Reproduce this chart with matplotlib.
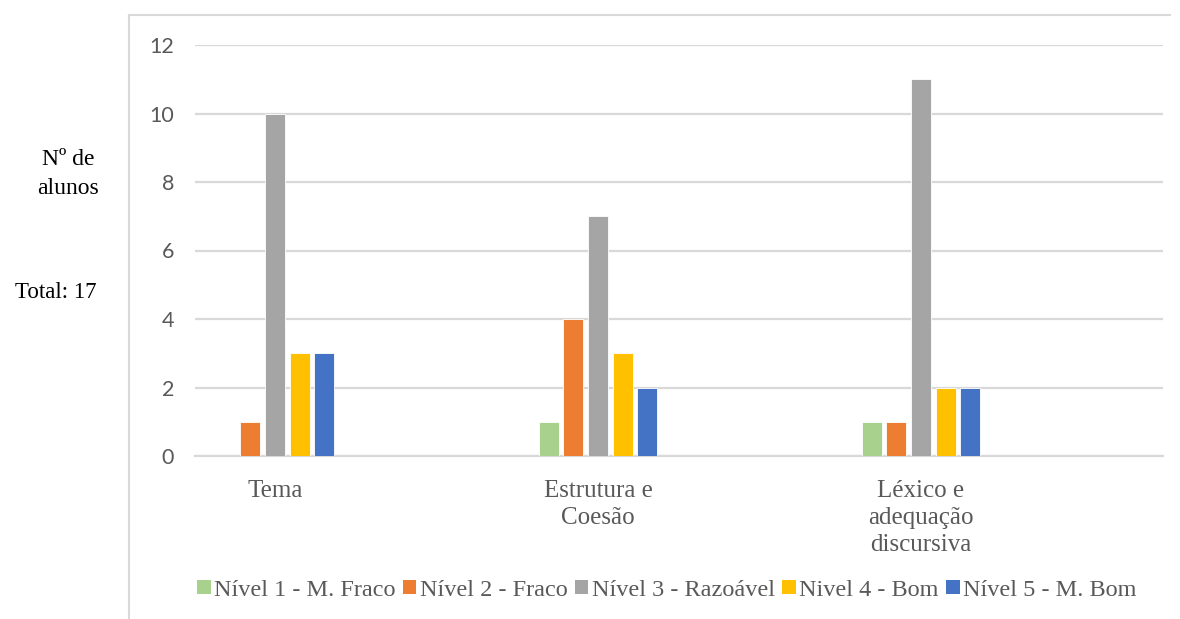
import matplotlib
matplotlib.use("Agg")
import matplotlib.pyplot as plt
from matplotlib.lines import Line2D
from matplotlib.patches import Patch
import numpy as np

categories = ["Tema", "Estrutura e\nCoesão", "Léxico e\nadequação\ndiscursiva"]
series_names = ["Nível 1 - M. Fraco", "Nível 2 - Fraco", "Nível 3 - Razoável",
                "Nivel 4 - Bom", "Nível 5 - M. Bom"]
nivel1 = [0, 1, 1]
nivel2 = [1, 4, 1]
nivel3 = [10, 7, 11]
nivel4 = [3, 3, 2]
nivel5 = [3, 2, 2]
yticks = [0, 2, 4, 6, 8, 10, 12]

series = [nivel1, nivel2, nivel3, nivel4, nivel5]
colors = ["#A9D18E", "#ED7D31", "#A5A5A5", "#FFC000", "#4472C4"]

W, H = 1180, 619
fig = plt.figure(figsize=(W / 100, H / 100), dpi=100)

serif = ["Liberation Serif", "DejaVu Serif"]
sans = ["Lato", "DejaVu Sans"]
grey_txt = "#595959"
grid_c = "#D9D9D9"

# outer chart frame (top and left edges visible)
fig.add_artist(Line2D([129 / W, 1170 / W], [1 - 15 / H, 1 - 15 / H],
                      transform=fig.transFigure, color=grid_c, lw=1.5))
fig.add_artist(Line2D([129 / W, 129 / W], [1 - 15 / H, 0],
                      transform=fig.transFigure, color=grid_c, lw=1.5))

ax_l, ax_r = 195 / W, 1163 / W
ax_b, ax_t = 1 - 456 / H, 1 - 45 / H
ax = fig.add_axes([ax_l, ax_b, ax_r - ax_l, ax_t - ax_b])

x = np.arange(len(categories))
step = 0.0762
width = 0.062
for i, (vals, col, name) in enumerate(zip(series, colors, series_names)):
    ax.bar(x + (i - 2) * step, vals, width=width, color=col, label=name,
           edgecolor="white", linewidth=0.6, zorder=3)

ax.set_xlim(-0.2477, 2.749)
ax.set_ylim(0, 12)
ax.set_yticks(yticks)
ax.set_yticklabels([str(v) for v in yticks], fontfamily=sans, fontsize=15.5,
                   color=grey_txt)
ax.tick_params(axis="y", length=0, pad=15)
ax.set_xticks(x)
ax.set_xticklabels(categories, fontfamily=serif, fontsize=18, color=grey_txt,
                   linespacing=1.3, va="top")
ax.tick_params(axis="x", length=0, pad=17)

ax.grid(axis="y", color=grid_c, linewidth=1.6, zorder=0)
for s in ["top", "right", "left"]:
    ax.spines[s].set_visible(False)
ax.spines["bottom"].set_color(grid_c)
ax.spines["bottom"].set_linewidth(1.6)
ax.spines["bottom"].set_zorder(2)

# axis description on the left
fig.text(68 / W, 1 - 174 / H, "Nº de\nalunos", fontfamily=serif, fontsize=17,
         color="black", ha="center", va="center", linespacing=1.5)
fig.text(56 / W, 1 - 292 / H, "Total: 17", fontfamily=serif, fontsize=16.5,
         color="black", ha="center", va="center")

handles = [Patch(facecolor=c, edgecolor="none") for c in colors]
leg = fig.legend(handles, series_names, loc="center", ncol=5,
                 bbox_to_anchor=(667 / W, 1 - 590 / H), frameon=False,
                 prop={"family": serif, "size": 17.5},
                 handlelength=0.55, handleheight=0.55, handletextpad=0.15,
                 columnspacing=0.3, borderpad=0)
for t in leg.get_texts():
    t.set_color(grey_txt)

fig.savefig("out.png", dpi=100, facecolor="white")
